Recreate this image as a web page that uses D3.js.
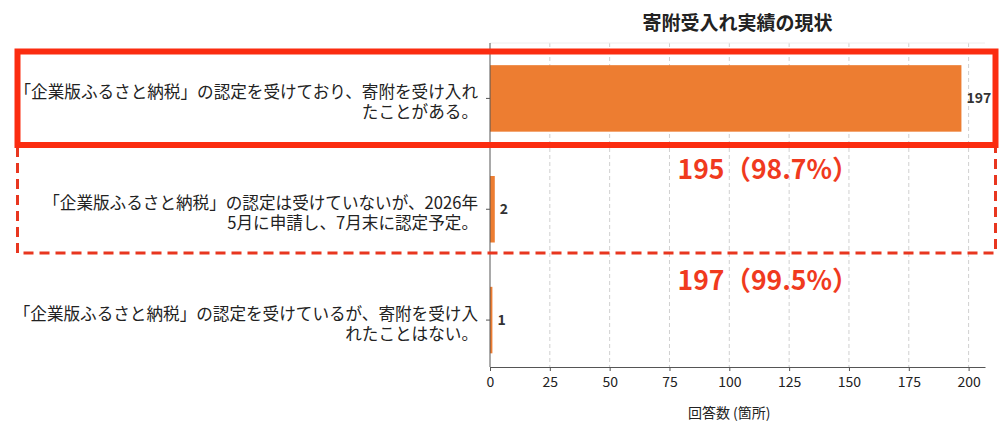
<!DOCTYPE html>
<html>
<head>
<meta charset="utf-8">
<script src="https://cdn.jsdelivr.net/npm/d3@7/dist/d3.min.js"></script>
<style>
    body { margin: 0; background: #fff; }
    svg { font-family: "Noto Sans CJK JP", "Noto Sans", sans-serif; }
</style>
</head>
<body>
<svg id="view" width="1000" height="440"></svg>
<script>
// DATA
var CATEGORIES = [
    ["「企業版ふるさと納税」の認定を受けており、寄附を受け入れ", "たことがある。"],
    ["「企業版ふるさと納税」の認定は受けていないが、2026年", "5月に申請し、7月末に認定予定。"],
    ["「企業版ふるさと納税」の認定を受けているが、寄附を受け入", "れたことはない。"],
];
var VALUES = [197, 2, 1];
var TICKS = [0, 25, 50, 75, 100, 125, 150, 175, 200];
var ANNOTATIONS = ["195（98.7%）", "197（99.5%）"];

var TITLE = "寄附受入れ実績の現状";
var X_LABEL = "回答数 (箇所)";

// CONSTANTS
var BAR_COLOR = "#ed7d31";
var RED = "#fb2c10";
var DASH_RED = "#e8361f";
var TEXT = "#222";
var GRID = "#d0d0d0";

var LEFT = 490;
var RIGHT = 985;
var TOP = 43;
var AXIS_Y = 367;

var BOX_LEFT = 17.5;
var BOX_RIGHT = 995.5;
var BOX_TOP = 51.5;
var BOX_BOTTOM = 145;
var DASH_BOTTOM = 253;


// main
function main() {
    var svg = d3.select("#view");
    var ids = d3.range(CATEGORIES.length);

    var x = d3.scaleLinear()
        .domain([0, d3.max(VALUES) * 1.05])
        .range([LEFT, RIGHT])
        ;
    var y = d3.scaleBand()
        .domain(ids)
        .range([TOP, 375.5])
        .paddingInner(0.4)
        .paddingOuter(0.2)
        ;

    // grid
    var grid = svg.append("g");
    grid.selectAll("line")
        .data(TICKS.slice(1))
        .enter()
        .append("line")
        .attr("x1", function(d) { return x(d); })
        .attr("x2", function(d) { return x(d); })
        .attr("y1", TOP)
        .attr("y2", AXIS_Y)
        .attr("stroke", GRID)
        .attr("stroke-width", 1)
        .attr("stroke-dasharray", "4,3")
        ;
    svg.append("line")
        .attr("x1", LEFT)
        .attr("x2", RIGHT)
        .attr("y1", TOP)
        .attr("y2", TOP)
        .attr("stroke", "#eee")
        ;

    // bars
    svg.append("g").selectAll("rect")
        .data(VALUES)
        .enter()
        .append("rect")
        .attr("x", x(0))
        .attr("y", function(d, i) { return y(i); })
        .attr("width", function(d) { return x(d) - x(0); })
        .attr("height", y.bandwidth())
        .attr("fill", BAR_COLOR)
        ;

    // value labels
    svg.append("g").selectAll("text")
        .data(VALUES)
        .enter()
        .append("text")
        .attr("x", function(d) { return x(d) + 5; })
        .attr("y", function(d, i) { return y(i) + y.bandwidth() / 2; })
        .attr("dy", "0.35em")
        .attr("fill", "#333")
        .attr("font-size", 14)
        .attr("font-weight", "bold")
        .text(function(d) { return d; })
        ;

    // x axis
    var xAxis = svg.append("g")
        .attr("transform", "translate(0," + AXIS_Y + ")")
        .call(d3.axisBottom(x).tickValues(TICKS).tickSize(4).tickSizeOuter(0))
        ;
    xAxis.select(".domain").attr("stroke", "#555");
    xAxis.selectAll(".tick line").attr("stroke", "#555");
    xAxis.selectAll(".tick text")
        .attr("font-size", 14)
        .attr("fill", TEXT)
        .attr("font-family", "\"Noto Sans CJK JP\", sans-serif")
        .attr("dy", "0.9em")
        ;

    // y axis
    var yAxis = svg.append("g")
        .attr("transform", "translate(" + LEFT + ",0)")
        .call(d3.axisLeft(y).tickSize(4).tickSizeOuter(0).tickFormat(""))
        ;
    yAxis.select(".domain")
        .attr("d", "M0," + TOP + "V" + AXIS_Y)
        .attr("stroke", "#555")
        ;
    yAxis.selectAll(".tick line").attr("stroke", "#555");

    // category labels, two lines each
    var labels = svg.append("g").selectAll("text")
        .data(CATEGORIES)
        .enter()
        .append("text")
        .attr("text-anchor", "end")
        .attr("fill", TEXT)
        .attr("font-size", 16.6)
        .attr("transform", function(d, i) {
            return "translate(" + (LEFT - 12) + "," + (y(i) + y.bandwidth() / 2 + 4) + ")";
        })
        ;
    labels.selectAll("tspan")
        .data(function(d) { return d; })
        .enter()
        .append("tspan")
        .attr("x", 0)
        .attr("y", function(d, j, all) { return (j - (all.length - 1) / 2) * 20; })
        .attr("dy", "0.35em")
        .text(function(d) { return d; })
        ;

    // title
    svg.append("text")
        .attr("x", (LEFT + RIGHT) / 2)
        .attr("y", 23)
        .attr("dy", "0.35em")
        .attr("text-anchor", "middle")
        .attr("fill", TEXT)
        .attr("font-size", 19)
        .attr("font-weight", "bold")
        .text(TITLE)
        ;

    // x label
    svg.append("text")
        .attr("x", x(100))
        .attr("y", 413)
        .attr("dy", "0.35em")
        .attr("text-anchor", "middle")
        .attr("fill", TEXT)
        .attr("font-size", 14)
        .text(X_LABEL)
        ;

    // highlight boxes
    svg.append("rect")
        .attr("x", BOX_LEFT)
        .attr("y", BOX_BOTTOM)
        .attr("width", BOX_RIGHT - BOX_LEFT)
        .attr("height", DASH_BOTTOM - BOX_BOTTOM)
        .attr("fill", "none")
        .attr("stroke", DASH_RED)
        .attr("stroke-width", 3)
        .attr("stroke-dasharray", "10,6")
        ;
    svg.append("rect")
        .attr("x", BOX_LEFT)
        .attr("y", BOX_TOP)
        .attr("width", BOX_RIGHT - BOX_LEFT)
        .attr("height", BOX_BOTTOM - BOX_TOP)
        .attr("fill", "none")
        .attr("stroke", RED)
        .attr("stroke-width", 6)
        ;

    // annotations under the boxes
    svg.append("g").selectAll("text")
        .data(ANNOTATIONS)
        .enter()
        .append("text")
        .attr("x", 768)
        .attr("y", function(d, i) { return y(i + 1) - 6; })
        .attr("dy", "0.35em")
        .attr("text-anchor", "middle")
        .attr("fill", "#f03a1e")
        .attr("font-size", 26.5)
        .attr("font-weight", "bold")
        .text(function(d) { return d; })
        ;
}

main();
</script>
</body>
</html>
